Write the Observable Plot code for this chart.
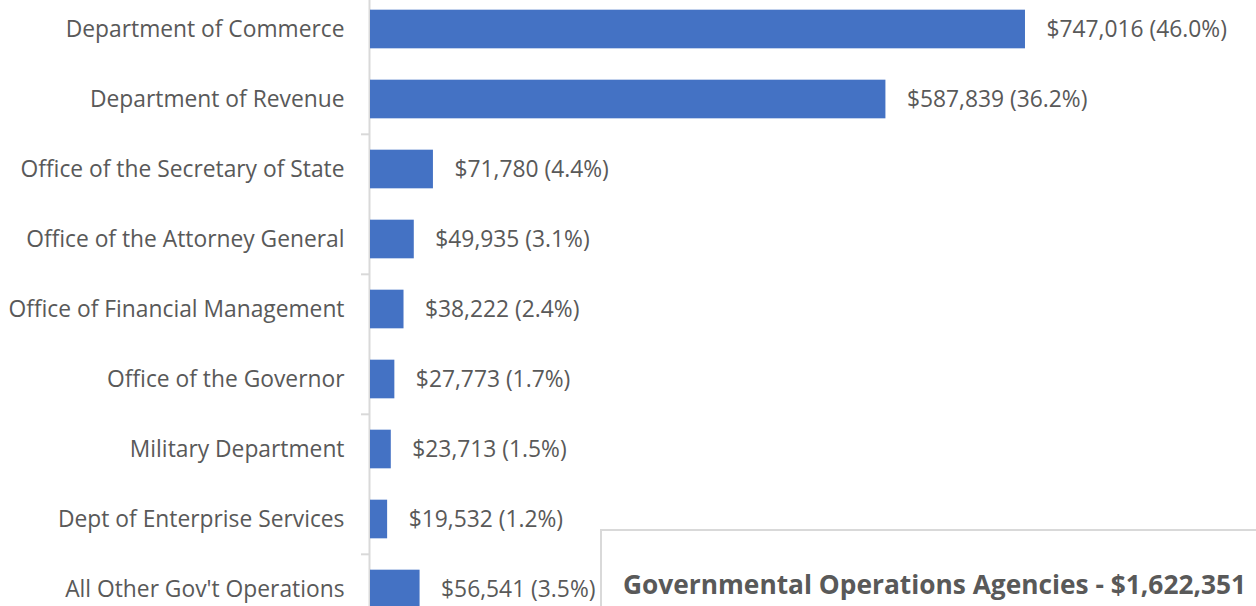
<!DOCTYPE html>
<html>
<head>
<meta charset="utf-8">
<script src="https://cdn.jsdelivr.net/npm/d3@7"></script>
<script src="https://cdn.jsdelivr.net/npm/@observablehq/plot@0.6"></script>
<style>
  html, body { margin: 0; padding: 0; background: #fff; overflow: hidden; }
  #wrap { position: relative; width: 1256px; height: 606px; }
  #box { position: absolute; left: 600px; top: 529px; width: 700px; height: 120px;
         border-left: 2px solid #d9d9d9; border-top: 2px solid #d9d9d9; box-sizing: border-box; background: #fff; }
  #box span { position: absolute; left: 21px; top: 37px; white-space: nowrap;
              font-family: "Open Sans", sans-serif; font-weight: 700; font-size: 26.3px; line-height: 32px; color: #595959; }
</style>
</head>
<body>
<div id="wrap">
  <div id="chart"></div>
  <div id="box"><span id="title"></span></div>
</div>
<script>
const categories = [
  "Department of Commerce",
  "Department of Revenue",
  "Office of the Secretary of State",
  "Office of the Attorney General",
  "Office of Financial Management",
  "Office of the Governor",
  "Military Department",
  "Dept of Enterprise Services",
  "All Other Gov't Operations"
];
const values = [747016, 587839, 71780, 49935, 38222, 27773, 23713, 19532, 56541];
const percents = ["46.0%", "36.2%", "4.4%", "3.1%", "2.4%", "1.7%", "1.5%", "1.2%", "3.5%"];
const totalLabel = "Governmental Operations Agencies - $1,622,351";
const tickedCategories = [categories[2], categories[4], categories[6], categories[8]];

const data = categories.map((c, i) => ({
  cat: c, value: values[i],
  label: "$" + d3.format(",")(values[i]) + " (" + percents[i] + ")"
}));

const yTop = -7.4, step = 70.35;
const yRange = [yTop, yTop + step * categories.length];
const barInset = (step - 39) / 2;

const chart = Plot.plot({
  width: 1256,
  height: 606,
  marginLeft: 370,
  marginRight: 0,
  marginTop: 0,
  marginBottom: 0,
  style: { fontFamily: "Open Sans, sans-serif", fontSize: "22.8px", color: "#595959", overflow: "visible", background: "#fff" },
  x: { domain: [0, 1010500], axis: null },
  y: { domain: categories, range: yRange, padding: 0, label: null },
  marks: [
    Plot.ruleX([0], { stroke: "#d9d9d9", strokeWidth: 2, dx: -1 }),
    Plot.barX(data, { y: "cat", x: "value", fill: "#4472C4", insetTop: barInset, insetBottom: barInset }),
    Plot.ruleY(tickedCategories, { y: d => d, x1: 0, x2: 0, insetLeft: -9, dy: -step / 2, stroke: "#d9d9d9", strokeWidth: 2 }),
    Plot.axisY({ tickSize: 0, tickPadding: 26, fontSize: 22.8, fill: "#595959", label: null }),
    Plot.text(data, { y: "cat", x: "value", text: "label", textAnchor: "start", dx: 21, fontSize: 22.8, fill: "#595959" })
  ]
});
document.getElementById("chart").appendChild(chart);
document.getElementById("title").textContent = totalLabel;
</script>
</body>
</html>
